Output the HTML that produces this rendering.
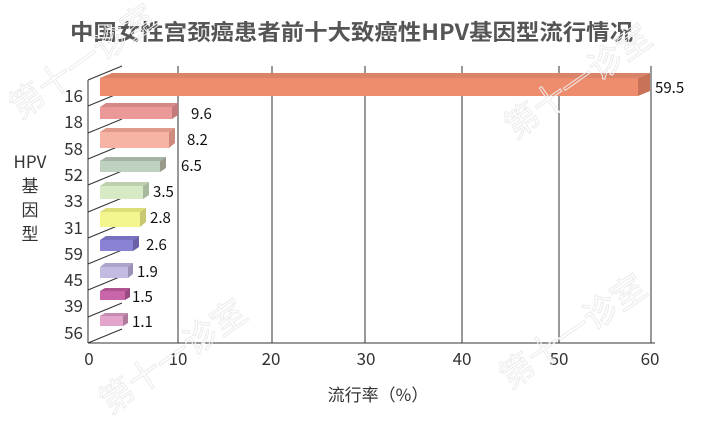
<!DOCTYPE html>
<html><head><meta charset="utf-8"><style>
body{margin:0;background:#fff}
svg text{font-family:"Noto Sans CJK SC","Liberation Sans",sans-serif}
</style></head><body>
<svg width="704" height="423" viewBox="0 0 704 423" xmlns="http://www.w3.org/2000/svg">
<rect width="704" height="423" fill="#fff"/>
<text x="70" y="40" font-size="22" font-weight="bold" fill="#555" textLength="563" lengthAdjust="spacingAndGlyphs">中国女性宫颈癌患者前十大致癌性HPV基因型流行情况</text>
<g stroke="#333" stroke-width="1" fill="none">
<line x1="178" y1="66" x2="178" y2="343"/><line x1="272" y1="66" x2="272" y2="343"/>
<line x1="365" y1="66" x2="365" y2="343"/><line x1="462" y1="66" x2="462" y2="343"/>
<line x1="559" y1="66" x2="559" y2="343"/><line x1="651" y1="66" x2="651" y2="343"/>
<line x1="88" y1="80" x2="88" y2="343"/><line x1="88" y1="343" x2="655" y2="343"/>
<line x1="88" y1="80" x2="122" y2="66"/><line x1="88" y1="106" x2="122" y2="92"/>
<line x1="88" y1="133" x2="122" y2="119"/><line x1="88" y1="159" x2="122" y2="145"/>
<line x1="88" y1="185" x2="122" y2="171"/><line x1="88" y1="212" x2="122" y2="198"/>
<line x1="88" y1="238" x2="122" y2="224"/><line x1="88" y1="264" x2="122" y2="250"/>
<line x1="88" y1="290" x2="122" y2="276"/><line x1="88" y1="317" x2="122" y2="303"/>
<line x1="88" y1="343" x2="122" y2="329"/>
</g>
<g font-size="17" fill="#333" text-anchor="end">
<text x="83" y="102">16</text><text x="83" y="128">18</text><text x="83" y="155">58</text>
<text x="83" y="181">52</text><text x="83" y="207">33</text><text x="83" y="234">31</text>
<text x="83" y="260">59</text><text x="83" y="286">45</text><text x="83" y="312">39</text>
<text x="83" y="339">56</text>
</g>
<g font-size="17" fill="#333" text-anchor="middle">
<text x="89" y="365">0</text><text x="178" y="365">10</text><text x="271" y="365">20</text>
<text x="366" y="365">30</text><text x="462" y="365">40</text><text x="559" y="365">50</text>
<text x="650" y="365">60</text>
<text x="30" y="168">HPV</text><text x="30" y="192">基</text><text x="30" y="216">因</text><text x="30" y="240">型</text>
<text x="378" y="401" font-size="17">流行率（%）</text>
</g>
<g>
<polygon points="100,78 638,78 650,73 112,73" fill="#d98368"/><rect x="100" y="78" width="538" height="18" fill="#ee8c6e"/><polygon points="638,78 650,73 650,91 638,96" fill="#c87258"/>
<polygon points="100,107 172,107 178,103 106,103" fill="#d58888"/><rect x="100" y="107" width="72" height="12" fill="#ea9898"/><polygon points="172,107 178,103 178,115 172,119" fill="#c27a7a"/>
<polygon points="100,132 169,132 175,128 106,128" fill="#e09a8c"/><rect x="100" y="132" width="69" height="16" fill="#f7b3a4"/><polygon points="169,132 175,128 175,143 169,148" fill="#cf8c7e"/>
<polygon points="100,161 160,161 166,157 106,157" fill="#a7b3a4"/><rect x="100" y="161" width="60" height="11" fill="#bfd2c0"/><polygon points="160,161 166,157 166,168 160,172" fill="#9a9a8a"/>
<polygon points="100,186 143,186 149,182 106,182" fill="#bfd0b0"/><rect x="100" y="186" width="43" height="13" fill="#d6eac6"/><polygon points="143,186 149,182 149,195 143,199" fill="#a8b89c"/>
<polygon points="100,212 140,212 146,208 106,208" fill="#dcde78"/><rect x="100" y="212" width="40" height="15" fill="#f3f68e"/><polygon points="140,212 146,208 146,222 140,227" fill="#c8c870"/>
<polygon points="100,240 133,240 139,236 106,236" fill="#7a70c0"/><rect x="100" y="240" width="33" height="11" fill="#8a82d4"/><polygon points="133,240 139,236 139,247 133,251" fill="#6a60a8"/>
<polygon points="100,267 128,267 133,263 105,263" fill="#ada4cc"/><rect x="100" y="267" width="28" height="11" fill="#c3bbe2"/><polygon points="128,267 133,263 133,274 128,278" fill="#9a90b8"/>
<polygon points="100,291 125,291 130,288 105,288" fill="#b0528f"/><rect x="100" y="291" width="25" height="9" fill="#c966aa"/><polygon points="125,291 130,288 130,297 125,300" fill="#9a4a82"/>
<polygon points="100,316 123,316 128,313 105,313" fill="#c88cb2"/><rect x="100" y="316" width="23" height="10" fill="#e2a4ca"/><polygon points="123,316 128,313 128,323 123,326" fill="#b07a9c"/>
</g>
<g font-size="15" fill="#111">
<text x="655" y="93">59.5</text><text x="191" y="119">9.6</text><text x="187" y="145">8.2</text>
<text x="181" y="171">6.5</text><text x="153" y="197">3.5</text><text x="150" y="223">2.8</text>
<text x="146" y="250">2.6</text><text x="137" y="277">1.9</text><text x="132" y="302">1.5</text>
<text x="132" y="327">1.1</text>
</g>
<g font-size="34" fill="none" stroke="#ececec" stroke-width="1">
<text transform="translate(20,120) rotate(-35)">第十一诊室</text>
<text transform="translate(515,140) rotate(-35)">第十一诊室</text>
<text transform="translate(110,415) rotate(-35)">第十一诊室</text>
<text transform="translate(510,390) rotate(-35)">第十一诊室</text>
</g>
</svg>
</body></html>
